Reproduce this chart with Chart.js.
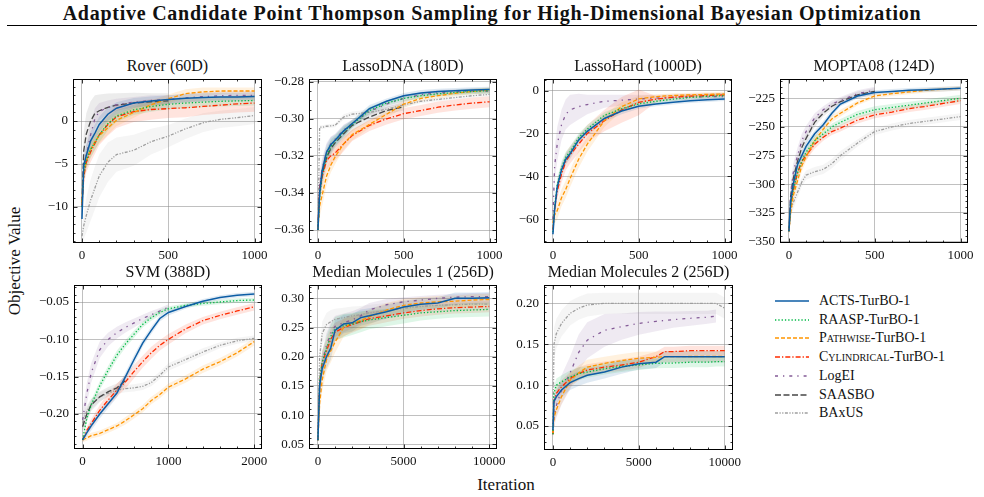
<!DOCTYPE html>
<html>
<head>
<meta charset="utf-8">
<script src="https://cdn.jsdelivr.net/npm/chart.js@4.4.1/dist/chart.umd.min.js"></script>
<style>
  html, body { margin: 0; padding: 0; background: #fff; }
  body { width: 984px; height: 497px; position: relative; overflow: hidden; font-family: "Liberation Serif", serif; color: #111; }
  #title { position: absolute; left: 0; width: 984px; top: 3px; text-align: center; font-weight: bold; font-size: 20px; letter-spacing: 0.75px; line-height: 21px; white-space: nowrap; }
  #rule { position: absolute; left: 7px; width: 970px; top: 25px; height: 0; border-top: 1.4px solid #000; }
  canvas { position: absolute; }
  .ptitle { position: absolute; text-align: center; font-size: 16px; line-height: 18px; white-space: nowrap; }
  #ylabel { position: absolute; left: 15px; top: 261px; font-size: 17px; white-space: nowrap; transform: translate(-50%, -50%) rotate(-90deg); }
  #xlabel { position: absolute; left: 506px; top: 485px; font-size: 17px; white-space: nowrap; transform: translate(-50%, -50%); }
  .lrow { position: absolute; left: 775px; height: 18px; font-size: 14px; line-height: 18px; white-space: nowrap; }
  .lrow svg { position: absolute; left: 0; top: 4px; }
  .lrow span.t { position: absolute; left: 44px; top: 0; }
  .sc { font-variant: small-caps; }
</style>
</head>
<body>
<div id="title">Adaptive Candidate Point Thompson Sampling for High-Dimensional Bayesian Optimization</div>
<div id="rule"></div>
<div id="ylabel">Objective Value</div>
<div id="xlabel">Iteration</div>
<div id="legend"></div>
<script>
// Methods and styles
const methodNames = ['ACTS-TurBO-1', 'RAASP-TurBO-1', 'Pathwise-TurBO-1', 'Cylindrical-TurBO-1', 'LogEI', 'SAASBO', 'BAxUS'];
const methodKeys = ['acts', 'raasp', 'pathwise', 'cyl', 'logei', 'saasbo', 'baxus'];
const smallCaps = [false, false, true, true, false, false, false];
const colors = ['#0C5DA5', '#00B945', '#FF9500', '#FF2C00', '#845B97', '#474747', '#9e9e9e'];
const dashes = [[], [1.3, 2], [4, 2], [5, 2, 1.3, 2], [3, 5, 1.3, 5], [6, 2.5], [3, 1.5, 1.2, 1.5, 1.2, 1.5]];

// Tick values and labels
const iter1000Ticks = [0, 500, 1000];
const iter1000Labels = ['0', '500', '1000'];
const iter2000Ticks = [0, 1000, 2000];
const iter2000Labels = ['0', '1000', '2000'];
const iter10000Ticks = [0, 5000, 10000];
const iter10000Labels = ['0', '5000', '10000'];
const roverTicks = [-10, -5, 0];
const roverLabels = ['\u221210', '\u22125', '0'];
const lassoDnaTicks = [-0.36, -0.34, -0.32, -0.30, -0.28];
const lassoDnaLabels = ['\u22120.36', '\u22120.34', '\u22120.32', '\u22120.30', '\u22120.28'];
const lassoHardTicks = [-60, -40, -20, 0];
const lassoHardLabels = ['\u221260', '\u221240', '\u221220', '0'];
const moptaTicks = [-350, -325, -300, -275, -250, -225];
const moptaLabels = ['\u2212350', '\u2212325', '\u2212300', '\u2212275', '\u2212250', '\u2212225'];
const svmTicks = [-0.20, -0.15, -0.10, -0.05];
const svmLabels = ['\u22120.20', '\u22120.15', '\u22120.10', '\u22120.05'];
const mm1Ticks = [0.05, 0.10, 0.15, 0.20, 0.25, 0.30];
const mm1Labels = ['0.05', '0.10', '0.15', '0.20', '0.25', '0.30'];
const mm2Ticks = [0.05, 0.10, 0.15, 0.20];
const mm2Labels = ['0.05', '0.10', '0.15', '0.20'];

// Rover (60D)
const roverIter = [0, 10, 25, 50, 75, 100, 150, 200, 300, 400, 500, 600, 700, 800, 900, 1000];
const roverMean = {
    acts:     [-11.4, -5.2, -4.0, -2.3, -1.4, -0.4, 0.8, 1.5, 2.1, 2.35, 2.5, 2.65, 2.75, 2.8, 2.8, 2.85],
    raasp:    [-10, -6, -4.5, -3.3, -2.5, -1.6, -0.3, 0.6, 1.3, 1.7, 1.95, 2.1, 2.2, 2.3, 2.35, 2.4],
    pathwise: [-9.5, -6, -4.6, -3.3, -2.4, -1.7, -0.8, 0.1, 1.0, 1.9, 2.6, 3.2, 3.4, 3.5, 3.5, 3.5],
    cyl:      [-9.8, -6.5, -4.8, -3.6, -2.6, -1.6, -0.4, 0.5, 1.1, 1.35, 1.45, 1.55, 1.7, 1.85, 2.0, 2.1],
    logei:    [-10, -6, -4.0, -1.6, 0.3, 1.1, 1.6, 1.9, 2.2, 2.4, 2.5, 2.7, 2.85, 2.95, 3.0, 3.0],
    saasbo:   [-9.5, -3.5, -1.5, 0.0, 0.9, 1.2, 1.6, 1.85, 2.1, 2.25, 2.35],
    baxus:    [-13.4, -12.2, -11.0, -9.2, -7.8, -6.4, -4.8, -3.9, -3.4, -2.4, -1.75, -0.9, -0.2, 0.2, 0.4, 0.65]
};
const roverBand = {
    acts:     [1.0, 1.2, 1.2, 1.1, 1.0, 0.9, 0.8, 0.7, 0.6, 0.5, 0.5, 0.5, 0.5, 0.5, 0.5, 0.5],
    raasp:    [1.0, 1.0, 1.0, 1.0, 0.9, 0.9, 0.8, 0.7, 0.6, 0.6, 0.6, 0.6, 0.6, 0.6, 0.6, 0.6],
    pathwise: [1.0, 1.0, 1.0, 0.9, 0.9, 0.9, 0.8, 0.7, 0.6, 0.5, 0.5, 0.5, 0.5, 0.4, 0.4, 0.4],
    cyl:      [1.2, 1.2, 1.2, 1.2, 1.2, 1.2, 1.3, 1.3, 1.2, 1.2, 1.1, 1.1, 1.0, 1.0, 1.0, 1.0],
    logei:    [1.0, 1.2, 1.3, 1.3, 1.2, 1.0, 0.8, 0.7, 0.6, 0.6, 0.5, 0.5, 0.5, 0.5, 0.5, 0.5],
    saasbo:   [1.5, 2.2, 2.4, 2.3, 2.1, 1.9, 1.6, 1.4, 1.2, 1.0, 0.9],
    baxus:    [0.8, 1.5, 2.0, 2.4, 2.5, 2.5, 2.3, 2.0, 1.8, 1.5, 1.3, 1.2, 1.1, 1.0, 1.0, 1.0]
};

// LassoDNA (180D)
const lassoDnaIter = [0, 10, 25, 50, 75, 100, 150, 200, 300, 400, 500, 600, 700, 800, 900, 1000];
const lassoDnaMean = {
    acts:     [-0.360, -0.340, -0.328, -0.318, -0.314, -0.3115, -0.3065, -0.3025, -0.2945, -0.2905, -0.2875, -0.286, -0.2853, -0.2848, -0.2845, -0.2842],
    raasp:    [-0.360, -0.342, -0.330, -0.320, -0.315, -0.312, -0.307, -0.303, -0.2955, -0.2915, -0.289, -0.2875, -0.2865, -0.2858, -0.2852, -0.2848],
    pathwise: [-0.360, -0.347, -0.341, -0.331, -0.325, -0.3205, -0.3135, -0.3085, -0.303, -0.2975, -0.292, -0.289, -0.2875, -0.2862, -0.2852, -0.2845],
    cyl:      [-0.360, -0.338, -0.331, -0.3225, -0.320, -0.3185, -0.3135, -0.309, -0.3035, -0.300, -0.2972, -0.2955, -0.2937, -0.2925, -0.2915, -0.2908],
    logei:    [-0.360, -0.335, -0.327, -0.318, -0.3135, -0.311, -0.306, -0.3025, -0.296, -0.292, -0.289, -0.287, -0.286, -0.2855, -0.285, -0.285],
    saasbo:   [-0.360, -0.338, -0.330, -0.321, -0.316, -0.313, -0.308, -0.3035, -0.299, -0.2955, -0.2935],
    baxus:    [-0.360, -0.3045, -0.3045, -0.304, -0.3038, -0.3035, -0.299, -0.2975, -0.2965, -0.2948, -0.2925, -0.2905, -0.2895, -0.2885, -0.2875, -0.2868]
};
const lassoDnaBand = {
    acts:     [0.003, 0.006, 0.005, 0.004, 0.004, 0.003, 0.003, 0.002, 0.002, 0.0015, 0.0015, 0.0015, 0.0015, 0.0015, 0.0015, 0.0015],
    raasp:    [0.003, 0.005, 0.005, 0.004, 0.004, 0.003, 0.003, 0.002, 0.002, 0.0015, 0.0015, 0.0015, 0.0015, 0.0015, 0.0015, 0.0015],
    pathwise: [0.003, 0.006, 0.006, 0.005, 0.004, 0.004, 0.003, 0.003, 0.002, 0.002, 0.002, 0.0015, 0.0015, 0.0015, 0.0015, 0.0015],
    cyl:      [0.003, 0.006, 0.006, 0.005, 0.005, 0.004, 0.004, 0.003, 0.003, 0.003, 0.003, 0.003, 0.003, 0.003, 0.003, 0.003],
    logei:    [0.003, 0.007, 0.006, 0.005, 0.004, 0.003, 0.003, 0.002, 0.002, 0.002, 0.002, 0.0015, 0.0015, 0.0015, 0.0015, 0.0015],
    saasbo:   [0.003, 0.006, 0.005, 0.004, 0.004, 0.003, 0.003, 0.003, 0.002, 0.002, 0.002],
    baxus:    [0.002, 0.001, 0.001, 0.001, 0.001, 0.001, 0.0015, 0.0015, 0.0015, 0.0015, 0.0015, 0.001, 0.001, 0.001, 0.001, 0.001]
};

// LassoHard (1000D)
const lassoHardIter = [0, 10, 25, 50, 75, 100, 150, 200, 300, 400, 500, 600, 700, 800, 900, 1000];
const lassoHardMean = {
    acts:     [-67, -55.5, -45, -37, -32, -29.5, -23, -19, -13, -9.5, -7.3, -6.3, -5.5, -4.8, -4.3, -3.9],
    raasp:    [-66, -54, -44, -36, -31, -28.5, -22, -18, -11.5, -8.5, -6.2, -5, -4, -3.2, -2.7, -2.3],
    pathwise: [-61.7, -58, -56, -50, -46, -41, -32, -25, -14, -7.5, -3.9, -2.8, -2.3, -2.0, -1.8, -1.6],
    cyl:      [-65, -55, -47, -39, -33, -30, -25, -20, -14, -9, -5.5, -4, -3.1, -2.6, -2.3, -2.0],
    logei:    [-60, -35, -25, -16, -11, -9, -7.5, -6.5, -5, -4.5, -3.9, -3.5, -3.2, -3.0, -2.9, -2.8]
};
const lassoHardBand = {
    acts:     [3, 3, 3, 3, 2.5, 2.5, 2, 2, 1.5, 1.5, 1.2, 1, 1, 1, 1, 1],
    raasp:    [3, 3, 3, 3, 2.5, 2.5, 2, 2, 1.5, 1.5, 1.2, 1, 1, 1, 1, 1],
    pathwise: [4, 4, 4, 4, 4, 4, 4, 3.5, 3, 2, 1.5, 1, 1, 1, 1, 1],
    cyl:      [3, 4, 4, 4, 4, 4, 4, 4, 5, 6, 6, 1.5, 1, 1, 1, 1],
    logei:    [5, 8, 8, 7, 7, 7, 6, 4.5, 3, 2.5, 2, 1.5, 1.5, 1.5, 1.5, 1.5]
};

// MOPTA08 (124D)
const moptaIter = [0, 10, 25, 50, 75, 100, 150, 200, 250, 300, 400, 500, 600, 700, 800, 900, 1000];
const moptaMean = {
    acts:     [-341, -315, -300, -283, -275, -267, -256, -248, -238, -230, -223, -220, -219, -218, -217.5, -217, -216.3],
    raasp:    [-341, -318, -305, -290, -280, -272, -262, -256, -250, -246, -239, -235, -233, -231, -229, -227, -225],
    pathwise: [-341, -325, -310, -297, -284, -276, -262, -252, -243, -238, -229, -223, -221, -219.5, -218, -217, -216.3],
    cyl:      [-341, -318, -305, -290, -280, -275, -265, -259, -254, -251, -244, -239.5, -237, -234, -232, -229.5, -227],
    logei:    [-341, -308, -290, -275, -262, -254, -242, -235, -230, -227, -221, -218],
    saasbo:   [-341, -310, -295, -280, -268, -260, -246, -238, -232, -228, -222, -219],
    baxus:    [-341, -322, -316, -307, -298, -292, -289, -287, -282, -275, -264, -254, -250, -247, -245, -243, -241]
};
const moptaBand = {
    acts:     [3, 6, 5, 4, 4, 4, 3, 3, 3, 2, 2, 2, 2, 2, 2, 2, 2],
    raasp:    [3, 6, 5, 5, 4, 4, 4, 3, 3, 3, 3, 3, 3, 3, 3, 3, 3],
    pathwise: [3, 7, 6, 5, 5, 4, 4, 3, 3, 3, 2, 2, 2, 2, 2, 2, 2],
    cyl:      [3, 6, 5, 5, 4, 4, 4, 3, 3, 3, 3, 3, 3, 3, 3, 3, 3],
    logei:    [3, 8, 8, 7, 6, 5, 4, 3, 3, 3, 3, 3],
    saasbo:   [3, 7, 6, 5, 5, 4, 4, 3, 3, 3, 3, 3],
    baxus:    [3, 6, 6, 5, 4, 4, 4, 4, 4, 4, 3, 3, 3, 3, 3, 3, 3]
};

// SVM (388D)
const svmIter = [0, 50, 100, 200, 300, 400, 500, 600, 700, 800, 900, 1000, 1200, 1400, 1600, 1800, 2000];
const svmMean = {
    acts:     [-0.2348, -0.225, -0.216, -0.200, -0.186, -0.172, -0.150, -0.127, -0.105, -0.088, -0.072, -0.064, -0.056, -0.049, -0.044, -0.041, -0.0393],
    raasp:    [-0.2348, -0.205, -0.188, -0.162, -0.141, -0.121, -0.106, -0.093, -0.080, -0.071, -0.064, -0.059, -0.0545, -0.052, -0.050, -0.048, -0.0473],
    pathwise: [-0.2348, -0.232, -0.229, -0.226, -0.221, -0.216, -0.209, -0.201, -0.193, -0.182, -0.174, -0.164, -0.153, -0.140, -0.130, -0.118, -0.1031],
    cyl:      [-0.2348, -0.222, -0.213, -0.195, -0.181, -0.168, -0.157, -0.143, -0.130, -0.118, -0.108, -0.100, -0.086, -0.075, -0.068, -0.062, -0.0563],
    logei:    [-0.208, -0.172, -0.145, -0.114, -0.100, -0.091, -0.084, -0.078, -0.072, -0.067, -0.062, -0.057],
    saasbo:   [-0.217, -0.200, -0.188, -0.177, -0.170, -0.165, -0.155],
    baxus:    [-0.2125, -0.196, -0.187, -0.177, -0.172, -0.168, -0.166, -0.165, -0.163, -0.158, -0.148, -0.137, -0.127, -0.117, -0.108, -0.102, -0.0987]
};
const svmBand = {
    acts:     [0.003, 0.005, 0.006, 0.006, 0.006, 0.006, 0.006, 0.006, 0.005, 0.005, 0.004, 0.004, 0.003, 0.003, 0.003, 0.003, 0.003],
    raasp:    [0.003, 0.006, 0.006, 0.006, 0.006, 0.006, 0.005, 0.005, 0.004, 0.004, 0.004, 0.003, 0.003, 0.003, 0.003, 0.003, 0.003],
    pathwise: [0.003, 0.004, 0.004, 0.004, 0.004, 0.004, 0.005, 0.005, 0.005, 0.005, 0.005, 0.005, 0.005, 0.005, 0.005, 0.005, 0.005],
    cyl:      [0.003, 0.005, 0.006, 0.007, 0.008, 0.009, 0.009, 0.009, 0.008, 0.008, 0.007, 0.007, 0.006, 0.005, 0.005, 0.005, 0.005],
    logei:    [0.012, 0.014, 0.013, 0.011, 0.009, 0.008, 0.007, 0.006, 0.005, 0.005, 0.004, 0.004],
    saasbo:   [0.010, 0.009, 0.008, 0.007, 0.006, 0.006, 0.006],
    baxus:    [0.010, 0.008, 0.007, 0.006, 0.005, 0.005, 0.005, 0.005, 0.005, 0.005, 0.005, 0.005, 0.005, 0.005, 0.004, 0.004, 0.004]
};

// Median Molecules 1 (256D)
const mm1Iter = [0, 100, 250, 500, 750, 1000, 1500, 2000, 2500, 3000, 4000, 5000, 6000, 7000, 8000, 9000, 10000];
const mm1Mean = {
    acts:     [0.057, 0.15, 0.18, 0.20, 0.215, 0.245, 0.256, 0.258, 0.267, 0.270, 0.277, 0.285, 0.290, 0.292, 0.300, 0.300, 0.301],
    raasp:    [0.057, 0.16, 0.19, 0.215, 0.235, 0.248, 0.253, 0.256, 0.260, 0.263, 0.267, 0.271, 0.275, 0.277, 0.279, 0.280, 0.281],
    pathwise: [0.057, 0.12, 0.16, 0.195, 0.21, 0.225, 0.250, 0.258, 0.262, 0.268, 0.280, 0.288, 0.292, 0.294, 0.295, 0.297, 0.298],
    cyl:      [0.057, 0.155, 0.19, 0.21, 0.23, 0.242, 0.250, 0.255, 0.260, 0.265, 0.270, 0.275, 0.279, 0.282, 0.284, 0.285, 0.286],
    logei:    [0.057, 0.15, 0.19, 0.22, 0.24, 0.252, 0.258, 0.263, 0.270, 0.280, 0.289, 0.294, 0.297, 0.300, 0.302, 0.303, 0.303],
    baxus:    [0.057, 0.20, 0.24, 0.255, 0.26, 0.264, 0.267, 0.270, 0.272, 0.275, 0.279, 0.283, 0.286, 0.288, 0.289, 0.290, 0.290]
};
const mm1Band = {
    acts:     [0.005, 0.02, 0.02, 0.02, 0.02, 0.018, 0.016, 0.015, 0.014, 0.013, 0.012, 0.011, 0.01, 0.01, 0.01, 0.01, 0.01],
    raasp:    [0.005, 0.02, 0.02, 0.02, 0.02, 0.02, 0.02, 0.019, 0.018, 0.016, 0.015, 0.014, 0.013, 0.012, 0.012, 0.012, 0.012],
    pathwise: [0.005, 0.02, 0.02, 0.02, 0.02, 0.018, 0.016, 0.015, 0.014, 0.013, 0.012, 0.011, 0.01, 0.01, 0.01, 0.01, 0.01],
    cyl:      [0.005, 0.02, 0.02, 0.02, 0.018, 0.016, 0.015, 0.014, 0.013, 0.012, 0.011, 0.01, 0.01, 0.01, 0.01, 0.01, 0.01],
    logei:    [0.005, 0.02, 0.02, 0.02, 0.02, 0.018, 0.016, 0.015, 0.014, 0.012, 0.01, 0.008, 0.007, 0.006, 0.006, 0.006, 0.006],
    baxus:    [0.005, 0.015, 0.02, 0.02, 0.02, 0.018, 0.017, 0.016, 0.015, 0.014, 0.013, 0.012, 0.011, 0.01, 0.01, 0.01, 0.01]
};

// Median Molecules 2 (256D)
const mm2Iter = [0, 60, 200, 500, 1000, 1500, 2000, 3000, 4000, 5000, 6000, 6500, 7000, 8000, 9000, 9500, 10000];
const mm2Mean = {
    acts:     [0.045, 0.080, 0.086, 0.094, 0.103, 0.108, 0.112, 0.116, 0.122, 0.126, 0.128, 0.1348, 0.1348, 0.1348, 0.1348, 0.1348, 0.1348],
    raasp:    [0.040, 0.090, 0.100, 0.104, 0.110, 0.114, 0.116, 0.120, 0.123, 0.1246, 0.1266, 0.127, 0.127, 0.128, 0.128, 0.1287, 0.1287],
    pathwise: [0.041, 0.060, 0.070, 0.086, 0.106, 0.115, 0.122, 0.1266, 0.130, 0.1328, 0.134, 0.1348, 0.1348, 0.135, 0.135, 0.135, 0.135],
    cyl:      [0.040, 0.080, 0.090, 0.098, 0.108, 0.114, 0.1185, 0.122, 0.1246, 0.128, 0.1348, 0.141, 0.141, 0.1421, 0.1421, 0.1421, 0.1421],
    logei:    [0.040, 0.060, 0.075, 0.094, 0.115, 0.140, 0.155, 0.167, 0.1715, 0.1755, 0.178, 0.179, 0.180, 0.1817, 0.183, 0.1845],
    baxus:    [0.040, 0.150, 0.163, 0.1755, 0.1878, 0.194, 0.198, 0.200, 0.200, 0.200, 0.200, 0.200, 0.200, 0.200, 0.200, 0.200, 0.194]
};
const mm2Band = {
    acts:     [0.006, 0.008, 0.008, 0.009, 0.009, 0.009, 0.009, 0.008, 0.008, 0.007, 0.007, 0.007, 0.007, 0.007, 0.007, 0.007, 0.007],
    raasp:    [0.006, 0.008, 0.008, 0.008, 0.008, 0.008, 0.007, 0.007, 0.007, 0.006, 0.006, 0.006, 0.006, 0.006, 0.006, 0.006, 0.006],
    pathwise: [0.006, 0.008, 0.008, 0.009, 0.009, 0.009, 0.009, 0.008, 0.008, 0.008, 0.007, 0.007, 0.007, 0.007, 0.007, 0.007, 0.007],
    cyl:      [0.006, 0.008, 0.008, 0.008, 0.008, 0.008, 0.007, 0.007, 0.007, 0.007, 0.006, 0.006, 0.006, 0.006, 0.006, 0.006, 0.006],
    logei:    [0.006, 0.012, 0.015, 0.018, 0.02, 0.022, 0.022, 0.02, 0.016, 0.014, 0.012, 0.011, 0.01, 0.009, 0.008, 0.008],
    baxus:    [0.006, 0.02, 0.018, 0.016, 0.015, 0.014, 0.014, 0.013, 0.013, 0.013, 0.013, 0.013, 0.013, 0.013, 0.013, 0.013, 0.013]
};

// Panel layout: box = [left, top, width, height] of the plot area in page pixels
const panels = [
    { title: 'Rover (60D)', box: [73, 79, 189, 164], xr: [-52, 1043], yr: [-14.2, 4.9], iter: roverIter, mean: roverMean, band: roverBand,
      xt: iter1000Ticks, xl: iter1000Labels, yt: roverTicks, yl: roverLabels, xm: 5, ym: 5 },
    { title: 'LassoDNA (180D)', box: [309, 79, 188, 164], xr: [-52, 1043], yr: [-0.367, -0.2785], iter: lassoDnaIter, mean: lassoDnaMean, band: lassoDnaBand,
      xt: iter1000Ticks, xl: iter1000Labels, yt: lassoDnaTicks, yl: lassoDnaLabels, xm: 5, ym: 4 },
    { title: 'LassoHard (1000D)', box: [544, 79, 188, 164], xr: [-52, 1043], yr: [-71.1, 5.4], iter: lassoHardIter, mean: lassoHardMean, band: lassoHardBand,
      xt: iter1000Ticks, xl: iter1000Labels, yt: lassoHardTicks, yl: lassoHardLabels, xm: 5, ym: 4 },
    { title: 'MOPTA08 (124D)', box: [780, 79, 188, 164], xr: [-52, 1043], yr: [-351.2, -208.2], iter: moptaIter, mean: moptaMean, band: moptaBand,
      xt: iter1000Ticks, xl: iter1000Labels, yt: moptaTicks, yl: moptaLabels, xm: 5, ym: 5 },
    { title: 'SVM (388D)', box: [74, 285, 188, 164], xr: [-100, 2090], yr: [-0.2469, -0.0272], iter: svmIter, mean: svmMean, band: svmBand,
      xt: iter2000Ticks, xl: iter2000Labels, yt: svmTicks, yl: svmLabels, xm: 5, ym: 5 },
    { title: 'Median Molecules 1 (256D)', box: [309, 285, 188, 164], xr: [-520, 10450], yr: [0.042, 0.3228], iter: mm1Iter, mean: mm1Mean, band: mm1Band,
      xt: iter10000Ticks, xl: iter10000Labels, yt: mm1Ticks, yl: mm1Labels, xm: 5, ym: 5 },
    { title: 'Median Molecules 2 (256D)', box: [544, 285, 189, 165], xr: [-520, 10480], yr: [0.0207, 0.2224], iter: mm2Iter, mean: mm2Mean, band: mm2Band,
      xt: iter10000Ticks, xl: iter10000Labels, yt: mm2Ticks, yl: mm2Labels, xm: 5, ym: 5 }
];

const YW = 52, XH = 24, PT = 4, PR = 20;
const tickFont = { family: 'Liberation Serif', size: 13 };

function hexA(hex, a) {
    const n = parseInt(hex.slice(1), 16);
    return `rgba(${(n >> 16) & 255}, ${(n >> 8) & 255}, ${n & 255}, ${a})`;
}

// frame with inward major and minor ticks on all four sides
const framePlugin = {
    id: 'frame',
    afterDraw(chart) {
        const { ctx, chartArea: a, scales } = chart;
        const p = chart.options.plugins.frame;
        ctx.save();
        ctx.strokeStyle = '#000';
        ctx.lineWidth = 1;
        ctx.strokeRect(a.left + 0.5, a.top + 0.5, a.right - a.left - 1, a.bottom - a.top - 1);
        ctx.lineWidth = 0.8;
        ctx.beginPath();
        function each(ticks, ndiv, min, max, fn) {
            const step = ticks[1] - ticks[0];
            const minor = step / ndiv;
            ticks.forEach(v => fn(v, 4.5));
            for (let k = -200; k <= 200; k++) {
                const v = ticks[0] + k * minor;
                if (v < min || v > max) continue;
                if (Math.abs(Math.round(k / ndiv) * ndiv - k) < 1e-9) continue;
                fn(v, 2.5);
            }
        }
        each(p.xt, p.xm, scales.x.min, scales.x.max, (v, len) => {
            const x = Math.round(scales.x.getPixelForValue(v)) + 0.5;
            ctx.moveTo(x, a.bottom); ctx.lineTo(x, a.bottom - len);
            ctx.moveTo(x, a.top); ctx.lineTo(x, a.top + len);
        });
        each(p.yt, p.ym, scales.y.min, scales.y.max, (v, len) => {
            const y = Math.round(scales.y.getPixelForValue(v)) + 0.5;
            ctx.moveTo(a.left, y); ctx.lineTo(a.left + len, y);
            ctx.moveTo(a.right, y); ctx.lineTo(a.right - len, y);
        });
        ctx.stroke();
        ctx.restore();
    }
};

function buildDatasets(p) {
    const lines = [], bands = [];
    methodKeys.forEach((k, m) => {
        const mean = p.mean[k];
        if (!mean) return;
        const band = p.band[k];
        const val = i => (mean[i] == null ? null : mean[i]);
        lines.push({
            data: p.iter.map((x, i) => ({ x, y: val(i) })),
            borderColor: colors[m], borderWidth: m === 0 ? 1.5 : 1.3, borderDash: dashes[m],
            pointRadius: 0, fill: false, tension: 0
        });
        bands.push({
            data: p.iter.map((x, i) => ({ x, y: val(i) == null ? null : mean[i] + band[i] })),
            borderWidth: 0, pointRadius: 0, fill: false
        });
        bands.push({
            data: p.iter.map((x, i) => ({ x, y: val(i) == null ? null : mean[i] - band[i] })),
            borderWidth: 0, pointRadius: 0, fill: '-1', backgroundColor: hexA(colors[m], m >= 5 ? 0.1 : 0.13)
        });
    });
    // first dataset is drawn on top, so lines come first
    return lines.concat(bands);
}

function axis(range, ticks, labels, isX) {
    return {
        type: 'linear', min: range[0], max: range[1],
        border: { display: false },
        grid: { color: 'rgba(140,140,140,0.55)', lineWidth: 1, drawTicks: false },
        ticks: {
            autoSkip: false, maxRotation: 0, padding: 5, color: '#111', font: tickFont,
            callback: (v) => { const i = ticks.findIndex(t => Math.abs(t - v) < 1e-9); return i >= 0 ? labels[i] : ''; }
        },
        afterBuildTicks: s => { s.ticks = ticks.map(v => ({ value: v })); },
        afterFit: s => {
            if (isX) s.height = XH; else s.width = YW;
            s.paddingLeft = 0; s.paddingRight = 0; s.paddingTop = 0; s.paddingBottom = 0;
        }
    };
}

panels.forEach(p => {
    const [bl, bt, bw, bh] = p.box;
    const cv = document.createElement('canvas');
    const w = bw + YW + PR, h = bh + PT + XH;
    cv.width = w; cv.height = h;
    cv.style.left = (bl - YW) + 'px'; cv.style.top = (bt - PT) + 'px';
    cv.style.width = w + 'px'; cv.style.height = h + 'px';
    document.body.appendChild(cv);

    const t = document.createElement('div');
    t.className = 'ptitle';
    t.textContent = p.title;
    t.style.left = bl + 'px'; t.style.width = bw + 'px'; t.style.top = (bt - 22) + 'px';
    document.body.appendChild(t);

    new Chart(cv.getContext('2d'), {
        type: 'line',
        data: { datasets: buildDatasets(p) },
        options: {
            responsive: false, animation: false, maintainAspectRatio: false,
            layout: { padding: { left: 0, top: PT, right: PR, bottom: 0 }, autoPadding: false },
            plugins: {
                legend: { display: false }, tooltip: { enabled: false },
                frame: { xt: p.xt, yt: p.yt, xm: p.xm, ym: p.ym }
            },
            scales: { x: axis(p.xr, p.xt, p.xl, true), y: axis(p.yr, p.yt, p.yl, false) }
        },
        plugins: [framePlugin]
    });
});

// Legend
const legend = document.getElementById('legend');
methodNames.forEach((name, m) => {
    const row = document.createElement('div');
    row.className = 'lrow';
    row.style.top = (292 + m * 18.7) + 'px';
    const dash = dashes[m].length ? `stroke-dasharray="${dashes[m].join(' ')}"` : '';
    let label = name;
    if (smallCaps[m]) {
        const cut = name.indexOf('-');
        label = `<span class="sc">${name.slice(0, cut)}</span>${name.slice(cut)}`;
    }
    row.innerHTML = `<svg width="36" height="10"><line x1="0" y1="5" x2="34" y2="5" stroke="${colors[m]}" stroke-width="${m === 0 ? 1.5 : 1.3}" ${dash}/></svg><span class="t">${label}</span>`;
    legend.appendChild(row);
});
</script>
</body>
</html>
